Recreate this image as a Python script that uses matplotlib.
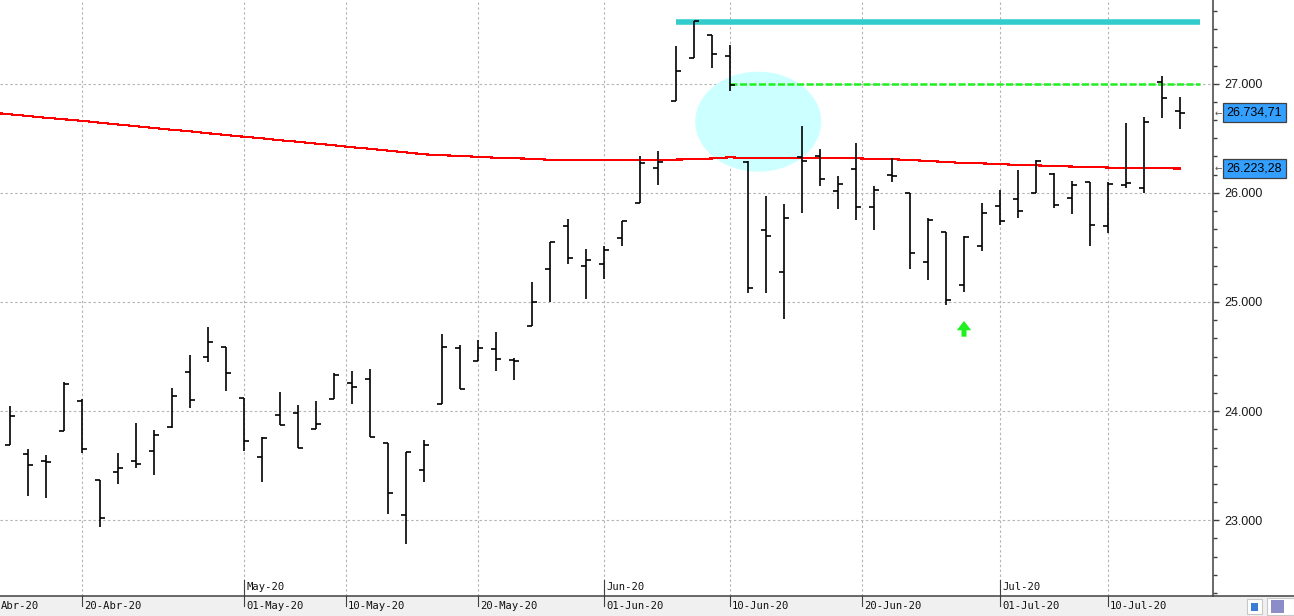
import numpy as np
import pandas as pd
import matplotlib
matplotlib.use("Agg")
import matplotlib.pyplot as plt
import matplotlib.ticker as mticker
from matplotlib.collections import LineCollection
from matplotlib.patches import Ellipse, Rectangle
from matplotlib.lines import Line2D
import matplotlib.transforms as mtrans

# ---------------- data ----------------
dates = pd.bdate_range("2020-04-14", "2020-07-16")
dates = dates[~dates.isin(pd.to_datetime(["2020-05-25", "2020-07-03"]))]

opens = [23687, 23605, 23545, 23815, 24093, 23366, 23440, 23540, 23632, 23857,
         24356, 24496, 24585, 24118, 23577, 23962, 23980, 23834, 24108, 24255,
         24292, 23705, 23048, 23458, 24063, 24576, 24457, 24567, 24470, 24777,
         25302, 25693, 25327, 25345, 25584, 25904, 26225, 26839, 27233, 27446,
         27251, 26280, 25660, 25272, 26326, 26335, 26014, 26216, 25868, 26165,
         25996, 25364, 25639, 25153, 25513, 25879, 25941, 25996, 26173, 25953,
         26099, 25696, 26072, 26044, 27013, 26747]
highs = [24047, 23653, 23598, 24264, 24111, 23366, 23616, 23889, 23827, 24209,
         24514, 24771, 24585, 24118, 23766, 24175, 24053, 24093, 24349, 24368,
         24386, 23705, 23628, 23733, 24707, 24603, 24652, 24722, 24484, 25180,
         25552, 25760, 25486, 25510, 25742, 26338, 26383, 27345, 27577, 27446,
         27355, 26295, 25968, 25895, 26610, 26399, 26152, 26454, 26060, 26317,
         25996, 25767, 25639, 25602, 25904, 26026, 26209, 26301, 26179, 26109,
         26102, 26102, 26640, 26692, 27071, 26875]
lows = [23687, 23225, 23207, 23815, 23619, 22941, 23335, 23482, 23418, 23843,
        24032, 24453, 24187, 23638, 23353, 23873, 23660, 23834, 24108, 24068,
        23760, 23060, 22785, 23353, 24063, 24206, 24457, 24370, 24288, 24777,
        24997, 25351, 25030, 25211, 25516, 25904, 26076, 26839, 27233, 27147,
        26936, 25080, 25080, 24841, 25813, 26065, 25849, 25754, 25662, 26102,
        25298, 25206, 24968, 25094, 25470, 25705, 25772, 25996, 25864, 25809,
        25516, 25635, 26042, 25996, 26688, 26585]
closes = [23953, 23504, 23537, 24251, 23653, 23018, 23476, 23513, 23779, 24136,
          24099, 24631, 24347, 23724, 23751, 23876, 23660, 23879, 24331, 24218,
          23760, 23247, 23623, 23687, 24592, 24206, 24576, 24475, 24463, 24997,
          25550, 25400, 25385, 25474, 25739, 26271, 26280, 27114, 27572, 27272,
          26990, 25128, 25605, 25767, 26289, 26124, 26078, 25868, 26023, 26158,
          25446, 25751, 25016, 25595, 25813, 25739, 25831, 26292, 25886, 26069,
          25705, 26078, 26087, 26646, 26866, 26734.71]
ma_prev = 26735  # value of the average on the session before the first bar
ma = [26720, 26704, 26688, 26674, 26660, 26643, 26626, 26611, 26594, 26578,
      26564, 26546, 26530, 26514, 26500, 26482, 26468, 26451, 26436, 26418,
      26404, 26387, 26371, 26353, 26345, 26338, 26330, 26322, 26317, 26312,
      26303, 26298, 26298, 26298, 26298, 26298, 26298, 26305, 26308, 26315,
      26326, 26317, 26317, 26317, 26317, 26317, 26317, 26317, 26310, 26308,
      26301, 26292, 26283, 26273, 26270, 26264, 26255, 26252, 26246, 26241,
      26237, 26232, 26226, 26225, 26224, 26223.28]

edge_label = "Abr-20"   # partially visible label at the left edge
date_ticks = ["2020-04-20", "2020-05-01", "2020-05-10", "2020-05-20",
              "2020-06-01", "2020-06-10", "2020-06-20", "2020-07-01", "2020-07-10"]
date_labels = ["20-Abr-20", "01-May-20", "10-May-20", "20-May-20",
               "01-Jun-20", "10-Jun-20", "20-Jun-20", "01-Jul-20", "10-Jul-20"]
month_ticks = ["2020-05-01", "2020-06-01", "2020-07-01"]
month_labels = ["May-20", "Jun-20", "Jul-20"]

resist_level = 27565          # cyan line
resist_start = "2020-06-05"
gap_level = 27000             # green dashed line
gap_start = "2020-06-10"
line_end_idx = 66.1
ellipse_center = ("2020-06-11", 26652)
ellipse_size = (7.0, 916)
arrow_date = "2020-06-29"
arrow_base, arrow_tip = 24682, 24826

y_major = [23000, 24000, 25000, 26000, 27000]

# ---------------- helpers ----------------
n = len(closes)
xi = np.arange(n)
dnum = np.array([d.toordinal() for d in dates], float)

def pos(d):
    """Bar-index position of a calendar date (interpolated between sessions)."""
    o = pd.Timestamp(d).toordinal()
    return float(np.interp(o, dnum, xi))

def fmt(v):
    return f"{v:,.0f}".replace(",", ".")

def fmt2(v):
    s = f"{v:,.2f}"
    return s.replace(",", "X").replace(".", ",").replace("X", ".")

# ---------------- figure ----------------
W, H = 1294, 616
fig = plt.figure(figsize=(W / 100, H / 100), dpi=100)
fig.patch.set_facecolor("white")
ax = fig.add_axes([0, 20 / H, 1213 / W, 596 / H])
ax.set_facecolor("white")

ax.set_xlim(-10 / 18, (1213 - 10) / 18)
ax.set_ylim(22306, 27767)

# grid
grid_kw = dict(color="#b4b4b4", linewidth=0.8, linestyle=(0, (2.2, 2.2)), zorder=0)
for v in y_major:
    ax.axhline(v, **grid_kw)
for d in date_ticks:
    ax.axvline(pos(d), **grid_kw)

# ellipse
ell = Ellipse((pos(ellipse_center[0]) + 0.57, ellipse_center[1]), ellipse_size[0],
              ellipse_size[1], facecolor="#ccffff", edgecolor="none", zorder=1)
ax.add_patch(ell)

# resistance lines
ax.hlines(resist_level, pos(resist_start), line_end_idx, color="#33cccc",
          linewidth=4.0, zorder=3)
ax.hlines(gap_level, pos(gap_start), line_end_idx, color="#1ff01f",
          linewidth=1.8, linestyle=(0, (2.8, 1.0)), zorder=3)

# moving average
ax.plot(np.concatenate([[-1], xi]), np.concatenate([[ma_prev], ma]),
        color="#ff0000", linewidth=0.8, antialiased=False, zorder=4)

# OHLC bars
tw = 0.3
segs = []
for i in range(n):
    segs.append([(i, lows[i]), (i, highs[i])])
    segs.append([(i - tw, opens[i]), (i, opens[i])])
    segs.append([(i, closes[i]), (i + tw, closes[i])])
ax.add_collection(LineCollection(segs, colors="black", linewidths=1.2,
                                 capstyle="butt", zorder=5))

# green arrow
ax.arrow(pos(arrow_date), arrow_base, 0, arrow_tip - arrow_base, width=0.28,
         head_width=0.8, head_length=85, length_includes_head=True,
         color="#1ff01f", zorder=6, linewidth=0)

# ---------------- axes styling ----------------
for s in ["left", "top", "bottom"]:
    ax.spines[s].set_visible(False)
ax.spines["right"].set_color("#404040")
ax.spines["right"].set_linewidth(1.1)

ax.yaxis.tick_right()
ax.yaxis.set_major_locator(mticker.FixedLocator(y_major))
ax.yaxis.set_major_formatter(mticker.FuncFormatter(lambda v, p: fmt(v)))
ax.yaxis.set_minor_locator(mticker.MultipleLocator(1000 / 6))
ax.tick_params(axis="y", which="major", length=4.3, width=1, color="#404040",
               pad=3.5, labelsize=9, labelcolor="#1a1a1a")
ax.tick_params(axis="y", which="minor", length=3.0, width=1, color="#404040")
for lab in ax.get_yticklabels():
    lab.set_fontfamily("Liberation Sans")

# bottom x ticks / labels drawn manually
ax.set_xticks([])
xtrans = ax.get_xaxis_transform()
lab_kw = dict(fontsize=7.6, family="DejaVu Sans Mono", color="#111111")
for d, lab in zip(date_ticks, date_labels):
    p = pos(d)
    ax.plot([p, p], [0, -10 / 596], transform=xtrans, color="#404040",
            linewidth=0.8, clip_on=False, zorder=7)
    ax.annotate(lab, xy=(p, 0), xycoords=xtrans, xytext=(1.5, -7.3),
                textcoords="offset points", ha="left", va="center",
                annotation_clip=False, **lab_kw)
fig.text(0.5 / W, 10 / H, edge_label, ha="left", va="center", **lab_kw)
for d, lab in zip(month_ticks, month_labels):
    p = pos(d)
    ax.plot([p, p], [0, 16 / 596], transform=xtrans, color="#404040",
            linewidth=0.8, zorder=7)
    ax.annotate(lab, xy=(p, 0), xycoords=xtrans, xytext=(1.5, 6.5),
                textcoords="offset points", ha="left", va="center",
                annotation_clip=False, **lab_kw)

# value boxes on the right axis
ytrans = mtrans.blended_transform_factory(ax.transAxes, ax.transData)
for v, txt in [(closes[-1], fmt2(closes[-1])), (ma[-1], fmt2(ma[-1]))]:
    ax.annotate(txt, xy=(1, v), xycoords=ytrans, xytext=(9.6, 0),
                textcoords="offset points", ha="left", va="center",
                fontsize=9, family="Liberation Sans", color="black",
                bbox=dict(boxstyle="square,pad=0.3", facecolor="#33a0ff",
                          edgecolor="#404040", linewidth=0.9),
                annotation_clip=False)
    ax.annotate("\u2190", xy=(1, v), xycoords=ytrans, xytext=(1.2, 0),
                textcoords="offset points", ha="left", va="center",
                fontsize=6.5, family="DejaVu Sans", color="#555555",
                annotation_clip=False)

# bottom band and axis line
fig.patches.append(Rectangle((0, 0), 1, 20 / H, transform=fig.transFigure,
                             facecolor="#f0f0f0", edgecolor="none", zorder=-1))
fig.lines.append(Line2D([0, 1], [20 / H, 20 / H], transform=fig.transFigure,
                        color="#404040", linewidth=1.1))
# small toolbar icons
fig.patches.append(Rectangle((1247 / W, 2 / H), 15 / W, 15 / H,
                             transform=fig.transFigure, facecolor="white",
                             edgecolor="#c8c8c8", linewidth=0.8))
fig.patches.append(Rectangle((1251 / W, 5 / H), 7 / W, 8 / H,
                             transform=fig.transFigure, facecolor="#3a7bd5",
                             edgecolor="none"))
fig.patches.append(Rectangle((1267 / W, 1 / H), 27 / W, 17 / H,
                             transform=fig.transFigure, facecolor="white",
                             edgecolor="#c8c8c8", linewidth=0.8))
fig.patches.append(Rectangle((1271 / W, 3 / H), 13 / W, 13 / H,
                             transform=fig.transFigure, facecolor="#8c8cc8",
                             edgecolor="none"))

fig.savefig("out.png", dpi=100)
